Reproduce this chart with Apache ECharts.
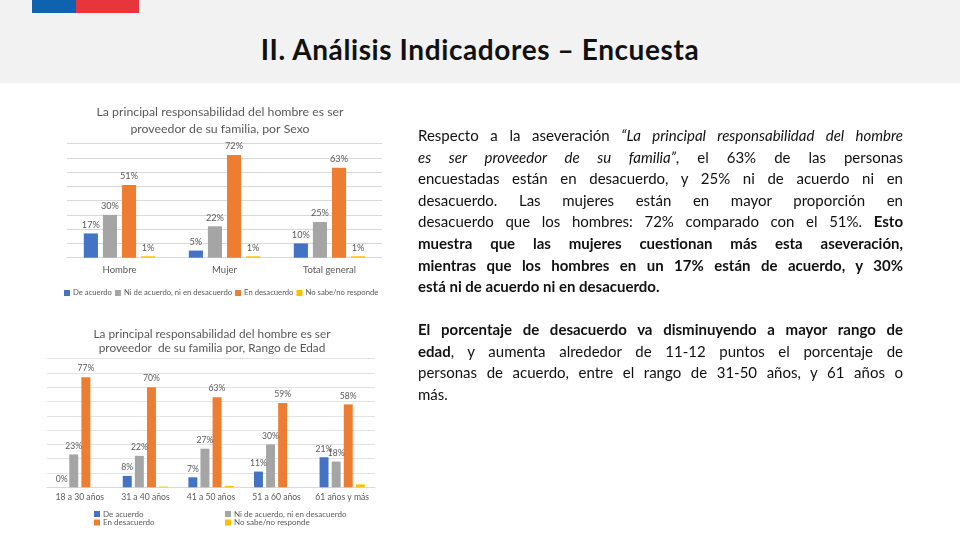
<!DOCTYPE html>
<html>
<head>
<meta charset="utf-8">
<script src="https://cdn.jsdelivr.net/npm/echarts@6/dist/echarts.min.js"></script>
<style>
  html,body{margin:0;padding:0;width:960px;height:540px;background:#fff;overflow:hidden;font-family:Lato,"Open Sans",sans-serif;}
  #band{position:absolute;left:0;top:0;width:960px;height:83px;background:#f2f2f2;}
  #fb{position:absolute;left:32px;top:0;width:44px;height:13px;background:#0f62ae;}
  #fr{position:absolute;left:76px;top:0;width:63px;height:13px;background:#e8353b;}
  #head{position:absolute;left:0;top:30px;width:960px;text-align:center;font-size:28px;letter-spacing:0.6px;font-weight:bold;color:#111;line-height:38px;}
  #chart{position:absolute;left:0;top:0;width:960px;height:540px;}
  .p{position:absolute;left:418px;width:485px;font-size:15px;color:#111;}
  .p div{height:21.6px;line-height:21.6px;white-space:normal;text-align:justify;text-align-last:justify;overflow:visible;}
  .p div.last{text-align:left;text-align-last:left;}
  i{font-style:italic;}
  b{font-weight:bold;}
</style>
</head>
<body>
<div id="band"></div><div id="fb"></div><div id="fr"></div>
<div id="head">II. Análisis Indicadores – Encuesta</div>
<div id="chart"></div>
<div class="p" style="top:125px;">
  <div>Respecto a la aseveración <i>“La principal responsabilidad del hombre</i></div>
  <div><i>es ser proveedor de su familia”</i>, el 63% de las personas</div>
  <div>encuestadas están en desacuerdo, y 25% ni de acuerdo ni en</div>
  <div>desacuerdo. Las mujeres están en mayor proporción en</div>
  <div>desacuerdo que los hombres: 72% comparado con el 51%. <b>Esto</b></div>
  <div><b>muestra que las mujeres cuestionan más esta aseveración,</b></div>
  <div><b>mientras que los hombres en un 17% están de acuerdo, y 30%</b></div>
  <div class="last"><b>está ni de acuerdo ni en desacuerdo.</b></div>
</div>
<div class="p" style="top:319px;">
  <div><b>El porcentaje de desacuerdo va disminuyendo a mayor rango de</b></div>
  <div><b>edad</b>, y aumenta alrededor de 11-12 puntos el porcentaje de</div>
  <div>personas de acuerdo, entre el rango de 31-50 años, y 61 años o</div>
  <div class="last">más.</div>
</div>
<script>
// ---- Data ----
const seriesNames = ['De acuerdo', 'Ni de acuerdo, ni en desacuerdo', 'En desacuerdo', 'No sabe/no responde'];
const colors = ['#4472C4', '#A5A5A5', '#ED7D31', '#FFC000'];

const sexCategories = ['Hombre', 'Mujer', 'Total general'];
const sexDeAcuerdo = [17, 5, 10];
const sexNi = [30, 22, 25];
const sexDesacuerdo = [51, 72, 63];
const sexNoSabe = [1, 1, 1];

const ageCategories = ['18 a 30 años', '31 a 40 años', '41 a 50 años', '51 a 60 años', '61 años y más'];
const ageDeAcuerdo = [0, 8, 7, 11, 21];
const ageNi = [23, 22, 27, 30, 18];
const ageDesacuerdo = [77, 70, 63, 59, 58];
const ageNoSabe = [0, 0.5, 1, 0, 2];

const title1 = 'La principal responsabilidad del hombre es ser\nproveedor de su familia, por Sexo';
const title2 = 'La principal responsabilidad del hombre es ser\nproveedor  de su familia por, Rango de Edad';

// ---- Chart ----
const txt = '#595959';
const FONT = 'Lato, "Open Sans", sans-serif';
const chart = echarts.init(document.getElementById('chart'), null, {renderer: 'canvas'});

function barSeries(name, data, idx, color, fs, showLabel) {
  return {
    name: name, type: 'bar', data: data,
    xAxisIndex: idx, yAxisIndex: idx,
    itemStyle: {color: color},
    barGap: '35%', barCategoryGap: idx === 0 ? '32%' : '31%',
    label: {show: showLabel, position: 'top', distance: 4, formatter: '{c}%', color: txt, fontSize: fs, fontFamily: FONT},
    emphasis: {disabled: true},
    animation: false
  };
}

const sex = [sexDeAcuerdo, sexNi, sexDesacuerdo, sexNoSabe];
const age = [ageDeAcuerdo, ageNi, ageDesacuerdo, ageNoSabe];
const series = [];
sex.forEach((d, i) => series.push(barSeries(seriesNames[i], d, 0, colors[i], 9.2, true)));
age.forEach((d, i) => series.push(barSeries(seriesNames[i], d, 1, colors[i], 8.6, i !== 3)));

const legendBase = {
  icon: 'rect', itemWidth: 6, itemHeight: 6, selectedMode: false,
  textStyle: {color: txt, fontFamily: FONT}
};
const lt2 = {color: txt, fontSize: 8, fontFamily: FONT, padding: [0, 0, 0, -2]};

chart.setOption({
  backgroundColor: 'transparent',
  animation: false,
  title: [
    {text: title1, left: 215, top: 99, textAlign: 'center',
     textStyle: {color: txt, fontSize: 12.3, fontWeight: 'normal', lineHeight: 17, fontFamily: FONT}},
    {text: title2, left: 207, top: 322, textAlign: 'center',
     textStyle: {color: txt, fontSize: 11.8, fontWeight: 'normal', lineHeight: 14, fontFamily: FONT}}
  ],
  legend: [
    Object.assign({}, legendBase, {data: seriesNames, left: 59, top: 284, itemGap: 3,
      textStyle: {color: txt, fontSize: 7.7, fontFamily: FONT, padding: [0, 0, 0, -2]}}),
    Object.assign({}, legendBase, {data: [seriesNames[0]], left: 89, top: 505, textStyle: lt2}),
    Object.assign({}, legendBase, {data: [seriesNames[1]], left: 220, top: 505, textStyle: lt2}),
    Object.assign({}, legendBase, {data: [seriesNames[2]], left: 89, top: 513.5, textStyle: lt2}),
    Object.assign({}, legendBase, {data: [seriesNames[3]], left: 220, top: 513.5, textStyle: lt2})
  ],
  grid: [
    {left: 67, width: 315, top: 143.5, height: 114.2},
    {left: 47, width: 328, top: 358.6, height: 128.7}
  ],
  xAxis: [
    {type: 'category', gridIndex: 0, data: sexCategories,
     axisLine: {lineStyle: {color: '#d9d9d9'}}, axisTick: {show: false},
     axisLabel: {color: txt, fontSize: 9.5, margin: 7, fontFamily: FONT, interval: 0}},
    {type: 'category', gridIndex: 1, data: ageCategories,
     axisLine: {lineStyle: {color: '#d9d9d9'}}, axisTick: {show: false},
     axisLabel: {color: txt, fontSize: 8.6, margin: 5, fontFamily: FONT, interval: 0}}
  ],
  yAxis: [
    {type: 'value', gridIndex: 0, min: 0, max: 80, interval: 10,
     axisLabel: {show: false}, axisLine: {show: false}, axisTick: {show: false},
     splitLine: {lineStyle: {color: '#d9d9d9'}}},
    {type: 'value', gridIndex: 1, min: 0, max: 90, interval: 10,
     axisLabel: {show: false}, axisLine: {show: false}, axisTick: {show: false},
     splitLine: {lineStyle: {color: '#e3e3e3'}}}
  ],
  series: series
});
</script>
</body>
</html>
